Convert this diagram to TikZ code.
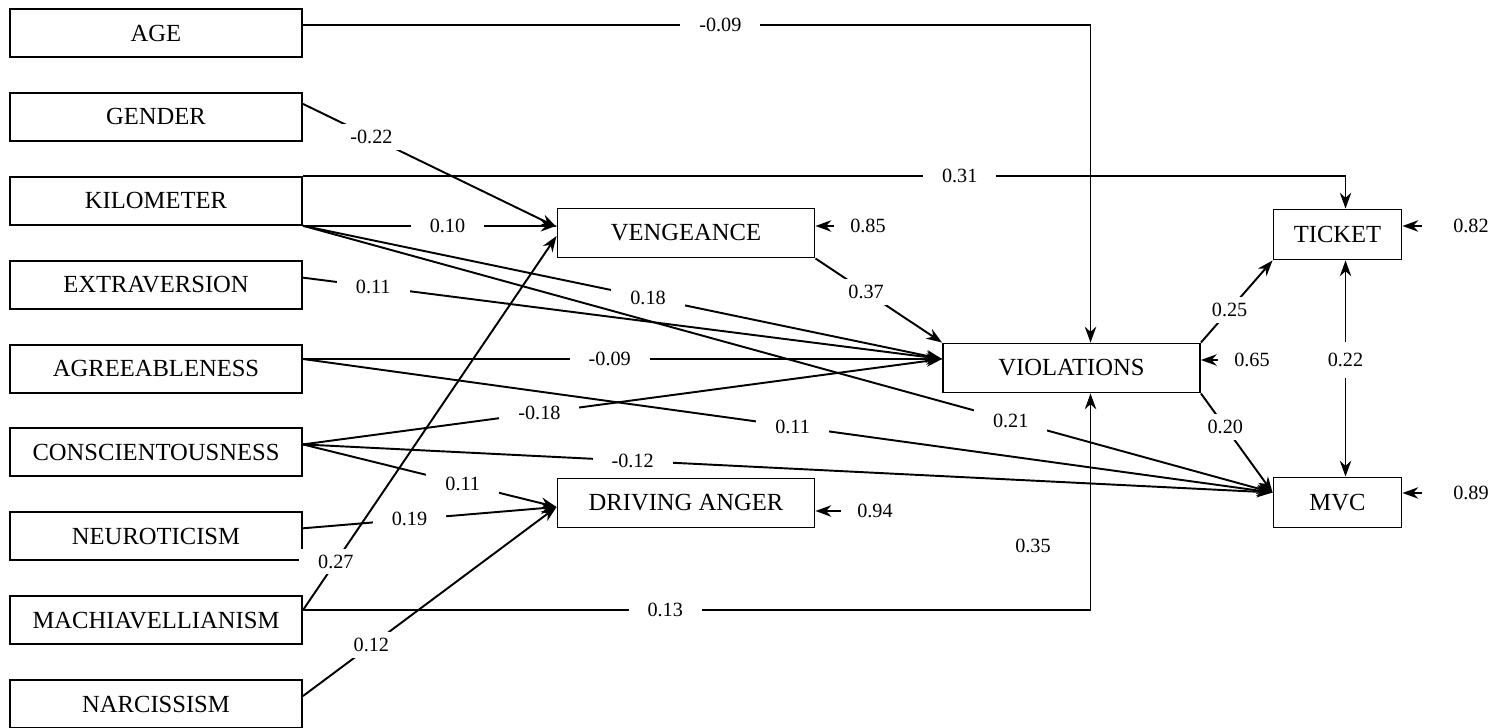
\documentclass[tikz,border=0pt]{standalone}
\usepackage{fontspec}
\setmainfont{Liberation Serif}
\usepackage{tikz}
\usetikzlibrary{arrows.meta,calc}

\begin{document}
\begin{tikzpicture}[x=0.02cm, y=-0.02cm, node distance={1.678cm}, line width=1.1pt,
    main/.style = {draw, rectangle, minimum width=5.84cm, minimum height=0.96cm, font=\fontsize{14}{16}\selectfont},
    mid/.style = {main, minimum width=5.14cm, minimum height=0.98cm},
    small/.style = {main, minimum width=2.56cm, minimum height=1cm},
    lbl/.style = {fill=white, inner xsep=0.38cm, inner ysep=0.12cm, font=\fontsize{11.5}{13}\selectfont},
    res/.style = {font=\fontsize{11.5}{13}\selectfont},
    arr/.style = {-{Stealth[length=9pt,width=6.5pt]}},
    err/.style = {arr, shorten <=0.2cm}]
    \useasboundingbox (0,0) rectangle (1504,727);
    \node[main] (1) at (156,33)  {AGE};
    \node[main] (2) [below of=1] {GENDER};
    \node[main] (3) [below of=2] {KILOMETER};
    \node[main] (4) [below of=3] {EXTRAVERSION};
    \node[main] (5) [below of=4] {AGREEABLENESS};
    \node[main] (6) [below of=5] {CONSCIENTOUSNESS};
    \node[main] (7) [below of=6] {NEUROTICISM};
    \node[main] (8) [below of=7] {MACHIAVELLIANISM};
    \node[main] (9) [below of=8] {NARCISSISM};
    \node[mid] (10) at (686,233)    {VENGEANCE};
    \node[mid] (11) at (686,503)    {DRIVING ANGER};
    \node[mid] (12) at (1071.5,368) {VIOLATIONS};
    \node[small] (13) at (1337.5,234.5) {TICKET};
    \node[small] (14) at (1337.5,502.5) {MVC};
    \coordinate (v)  at ($(12.center)+(19,0)$);
    \coordinate (vl) at ($(12.west)+(0,-9)$);
    \coordinate (ml) at ($(14.west)+(0,-10)$);
    \coordinate (dl) at ($(11.west)+(0,4)$);
    \coordinate (t)  at ($(13.north)+(8,0)$);
    % paths
    \draw[arr] ($(1.east)+(0,-8)$) coordinate (a) -- node[lbl, pos=0.53] {-0.09} (a -| v) -- (v |- 12.north);
    \draw[arr] ($(2.east)+(0,-13)$) -- node[lbl, pos=0.27] {-0.22} ($(10.west)+(0,-6)$);
    \draw[arr] (3.north east) -- node[lbl, pos=0.63] {0.31} (3.north east -| t) -- (t);
    \draw[arr] (3.south east) -- node[lbl, pos=0.57] {0.10} (3.south east -| 10.west);
    \draw[arr] (3.south east) -- node[lbl, pos=0.54] {0.18} (vl);
    \draw[arr] (3.south east) -- node[lbl, pos=0.73] {0.21} (ml);
    \draw[arr] ($(4.east)+(0,-7)$) -- node[lbl, pos=0.11] {0.11} (vl);
    \draw[arr] (5.east |- vl) -- node[lbl, pos=0.48] {-0.09} (vl);
    \draw[arr] (5.east |- vl) -- node[lbl, pos=0.505] {0.11} (ml);
    \draw[arr] ($(6.east)+(0,-8)$) -- node[lbl, pos=0.37] {-0.18} (vl);
    \draw[arr] ($(6.east)+(0,-8)$) -- node[lbl, pos=0.34] {-0.12} (ml);
    \draw[arr] ($(6.east)+(0,-8)$) -- node[lbl, pos=0.63] {0.11} (dl);
    \draw[arr] ($(7.east)+(0,-8)$) -- node[lbl, pos=0.42] {0.19} (dl);
    \draw[arr] ($(8.east)+(0,-10)$) -- node[lbl, pos=0.13] {0.27} ($(10.west)+(0,3)$);
    \draw[arr] ($(8.east)+(0,-10)$) coordinate (b) -- node[lbl, pos=0.46] {0.13} (b -| v) -- (v |- 12.south);
    \draw[arr] ($(9.east)+(0,-8)$) -- node[lbl, pos=0.27] {0.12} (dl);
    \draw[arr] (10.south east) -- node[lbl, pos=0.4] {0.37} (12.north west);
    \draw[arr] (12.north east) -- node[lbl, pos=0.4] {0.25} (13.south west);
    \draw[arr] (12.south east) -- node[lbl, pos=0.34] {0.20} (ml);
    \draw[{Stealth[length=9pt,width=6.5pt]}-{Stealth[length=9pt,width=6.5pt]}] (13.south -| t) -- node[lbl, inner xsep=0.1cm, inner ysep=0.22cm, pos=0.46] {0.22} (14.north -| t);
    \node[res] (15) at (1033,546) {0.35};
    % error terms
    \node[res] (e1) at (868,226)  {0.85};
    \node[res] (e2) at (875,511)  {0.94};
    \node[res] (e3) at (1252,360) {0.65};
    \node[res] (e4) at (1471,226) {0.82};
    \node[res] (e5) at (1471,493) {0.89};
    \draw[err] (e1) -- (10.east |- e1);
    \draw[err] (e2) -- (11.east |- e2);
    \draw[err] (e3) -- (12.east |- e3);
    \draw[err, shorten <=0.5cm] (e4) -- (13.east |- e4);
    \draw[err, shorten <=0.5cm] (e5) -- (14.east |- e5);
\end{tikzpicture}
\end{document}
